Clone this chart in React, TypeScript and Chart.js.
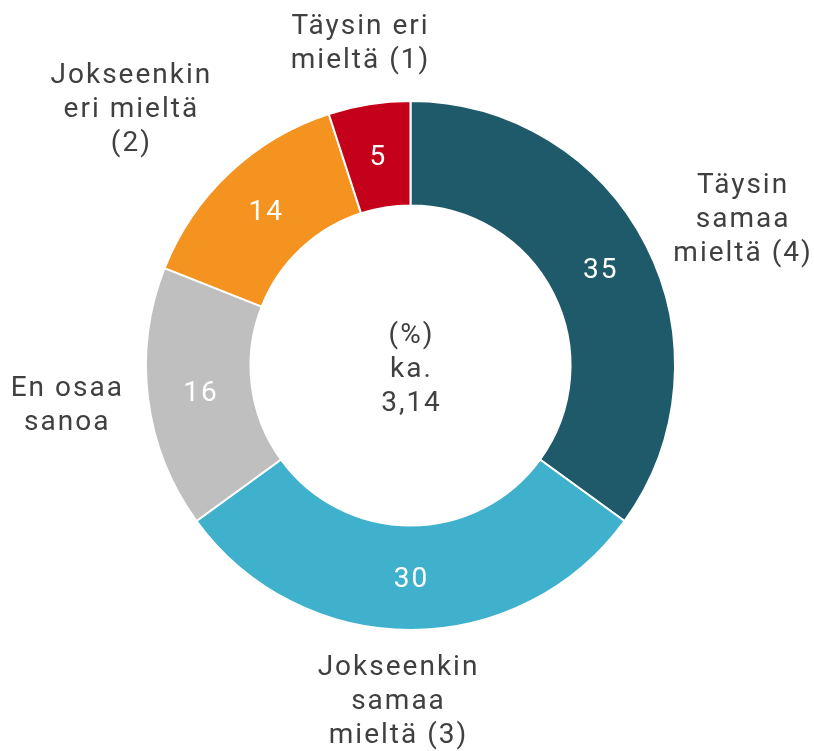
import React, { useEffect, useRef } from "react";
import { Chart, registerables } from "chart.js";

Chart.register(...registerables);

const categories = [
  "Täysin samaa mieltä (4)",
  "Jokseenkin samaa mieltä (3)",
  "En osaa sanoa",
  "Jokseenkin eri mieltä (2)",
  "Täysin eri mieltä (1)",
];
const labelLines = [
  ["Täysin", "samaa", "mieltä (4)"],
  ["Jokseenkin", "samaa", "mieltä (3)"],
  ["En osaa", "sanoa"],
  ["Jokseenkin", "eri mieltä", "(2)"],
  ["Täysin eri", "mieltä (1)"],
];
const values = [35, 30, 16, 14, 5];
const colors = ["#1e5a69", "#3fb1cc", "#bfbfbf", "#f59320", "#c5001a"];
const centerLines = ["(%)", "ka.", "3,14"];

// label placement: [distance from centre, dx tweak, dy tweak]
const labelPlace = [
  [362, 10, 19],
  [332, -12, 4],
  [350, 4, -3],
  [380, -19, 22],
  [326, 1, 0],
];

const FONT = "28px Roboto, 'Open Sans', sans-serif";
const TEXT = "#404040";
const LINE_H = 34;

const labelsPlugin = {
  id: "labelsPlugin",
  afterDraw(chart: any) {
    const ctx = chart.ctx;
    const meta = chart.getDatasetMeta(0);
    ctx.save();
    ctx.font = FONT;
    (ctx as any).letterSpacing = "2px";
    ctx.textAlign = "center";
    ctx.textBaseline = "middle";
    let cx = 0, cy = 0;
    meta.data.forEach((arc: any, i: number) => {
      const p = arc.tooltipPosition();
      ctx.fillStyle = "#ffffff";
      ctx.fillText(String(values[i]), p.x + 1, p.y + 2);
      cx = arc.x; cy = arc.y;
      const mid = (arc.startAngle + arc.endAngle) / 2;
      const [d, tx, ty] = labelPlace[i];
      const lx = arc.x + Math.cos(mid) * d + tx;
      const ly = arc.y + Math.sin(mid) * d + ty;
      const lines = labelLines[i];
      ctx.fillStyle = TEXT;
      lines.forEach((ln, k) => {
        ctx.fillText(ln, lx, ly + (k - (lines.length - 1) / 2) * LINE_H);
      });
    });
    ctx.fillStyle = TEXT;
    centerLines.forEach((ln, k) => {
      ctx.fillText(ln, cx + 1, cy + (k - (centerLines.length - 1) / 2) * LINE_H + 4);
    });
    ctx.restore();
  },
};

export default function App() {
  const ref = useRef<HTMLCanvasElement>(null);
  useEffect(() => {
    document.body.style.margin = "0";
    const chart = new Chart(ref.current!, {
      type: "doughnut",
      data: {
        labels: categories,
        datasets: [
          {
            data: values,
            backgroundColor: colors,
            borderColor: "#ffffff",
            borderWidth: 2,
          },
        ],
      },
      options: {
        animation: false,
        responsive: false,
        cutout: "60.5%",
        layout: { padding: { left: 145, top: 100, right: 138, bottom: 120 } },
        plugins: { legend: { display: false }, tooltip: { enabled: false } },
      },
      plugins: [labelsPlugin],
    });
    return () => chart.destroy();
  }, []);
  return (
    <div style={{ width: 814, height: 751 }}>
      <canvas ref={ref} width={814} height={751} style={{ width: 814, height: 751 }} />
    </div>
  );
}
